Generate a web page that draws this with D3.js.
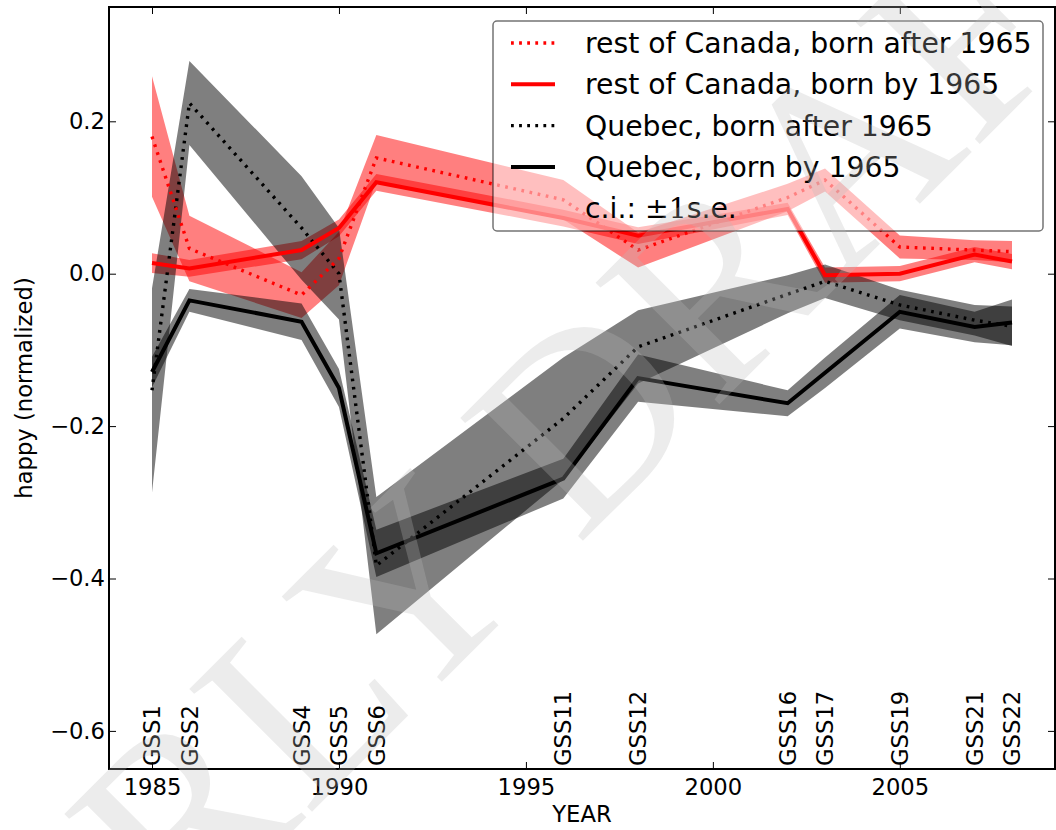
<!DOCTYPE html>
<html>
<head>
<meta charset="utf-8">
<script src="https://cdn.jsdelivr.net/npm/d3@7"></script>
<style>
  body { margin: 0; background: #fff; }
  svg { font-family: "DejaVu Sans", sans-serif; }
</style>
</head>
<body>
<div id="chart"></div>
<script>
// survey years and GSS cycle names
const years = [1985, 1986, 1989, 1990, 1991, 1996, 1998, 2002, 2003, 2005, 2007, 2008];
const surveys = ['GSS1', 'GSS2', 'GSS4', 'GSS5', 'GSS6', 'GSS11', 'GSS12', 'GSS16', 'GSS17', 'GSS19', 'GSS21', 'GSS22'];

// mean happiness (normalized) and standard errors
const rocAfter   = [0.180, 0.033, -0.028, 0.020, 0.152, 0.097, 0.031, 0.100, 0.123, 0.035, 0.031, 0.029];
const rocAfterSe = [0.079, 0.043, 0.030, 0.035, 0.030, 0.026, 0.023, 0.018, 0.015, 0.015, 0.013, 0.014];
const rocBy      = [0.014, 0.007, 0.031, 0.060, 0.120, 0.073, 0.050, 0.085, -0.002, 0.000, 0.025, 0.016];
const rocBySe    = [0.013, 0.011, 0.012, 0.011, 0.011, 0.011, 0.011, 0.008, 0.010, 0.010, 0.010, 0.010];
const qcAfter    = [-0.153, 0.224, 0.060, 0.000, -0.383, -0.190, -0.096, -0.027, -0.010, -0.041, -0.061, -0.069];
const qcAfterSe  = [0.134, 0.055, 0.068, 0.060, 0.090, 0.080, 0.048, 0.025, 0.022, 0.020, 0.020, 0.026];
const qcBy       = [-0.129, -0.035, -0.063, -0.150, -0.367, -0.269, -0.137, -0.170, -0.130, -0.050, -0.070, -0.064];
const qcBySe     = [0.020, 0.015, 0.024, 0.025, 0.031, 0.026, 0.031, 0.017, 0.020, 0.022, 0.020, 0.030];

const xTicks = [1985, 1990, 1995, 2000, 2005];
const yTicks = [-0.6, -0.4, -0.2, 0.0, 0.2];

const W = 1056, H = 830;
const margin = { top: 7, right: 1, bottom: 61, left: 109 };
const width = W - margin.left - margin.right;
const height = H - margin.top - margin.bottom;

const svg = d3.select('#chart')
  .append('svg')
  .attr('width', W)
  .attr('height', H);

const g = svg.append('g')
  .attr('transform', `translate(${margin.left},${margin.top})`);

const x = d3.scaleLinear().domain([1983.85, 2009.15]).range([0, width]);
const y = d3.scaleLinear().domain([-0.65, 0.35]).range([height, 0]);

const series = [
  { label: 'rest of Canada, born after 1965', v: rocAfter, se: rocAfterSe, color: '#ff0000', dotted: true },
  { label: 'rest of Canada, born by 1965', v: rocBy, se: rocBySe, color: '#ff0000', dotted: false },
  { label: 'Quebec, born after 1965', v: qcAfter, se: qcAfterSe, color: '#000000', dotted: true },
  { label: 'Quebec, born by 1965', v: qcBy, se: qcBySe, color: '#000000', dotted: false }
];

const rows = s => years.map((yr, i) => ({ yr, v: s.v[i], se: s.se[i] }));

const area = d3.area()
  .x(d => x(d.yr))
  .y0(d => y(d.v - d.se))
  .y1(d => y(d.v + d.se));

const line = d3.line()
  .x(d => x(d.yr))
  .y(d => y(d.v));

// bands: red first, grey on top
g.selectAll('path.band')
  .data(series)
  .enter()
  .append('path')
  .attr('class', 'band')
  .attr('d', s => area(rows(s)))
  .attr('fill', s => s.color)
  .attr('fill-opacity', 0.5);

// lines, Quebec first then rest of Canada
g.selectAll('path.line')
  .data(series.slice().reverse())
  .enter()
  .append('path')
  .attr('class', 'line')
  .attr('d', s => line(rows(s)))
  .attr('fill', 'none')
  .attr('stroke', s => s.color)
  .attr('stroke-width', s => (s.dotted ? 3.4 : 4))
  .attr('stroke-dasharray', s => (s.dotted ? '2.7,5.6' : null))
  .attr('stroke-linejoin', 'miter');

// GSS cycle labels along the bottom
g.selectAll('text.gss')
  .data(years)
  .enter()
  .append('text')
  .attr('class', 'gss')
  .attr('transform', d => `translate(${x(d)},${height - 3}) rotate(-90)`)
  .attr('dy', '0.36em')
  .attr('font-size', 22.7)
  .attr('fill', '#000')
  .text((d, i) => surveys[i]);

// axes, ticks pointing inward
const fmt = d3.format('.1f');
const axes = [
  g.append('g').attr('transform', `translate(0,${height})`)
    .call(d3.axisBottom(x).tickValues(xTicks).tickFormat(d3.format('d')).tickSizeInner(-7).tickSizeOuter(0).tickPadding(10)),
  g.append('g')
    .call(d3.axisTop(x).tickValues(xTicks).tickFormat('').tickSizeInner(-7).tickSizeOuter(0)),
  g.append('g')
    .call(d3.axisLeft(y).tickValues(yTicks).tickFormat(fmt).tickSizeInner(-7).tickSizeOuter(0).tickPadding(4)),
  g.append('g').attr('transform', `translate(${width},0)`)
    .call(d3.axisRight(y).tickValues(yTicks).tickFormat('').tickSizeInner(-7).tickSizeOuter(0))
];
axes.forEach(a => {
  a.attr('font-family', null);
  a.select('.domain').remove();
  a.selectAll('.tick line').attr('stroke', '#000').attr('stroke-width', 1);
  a.selectAll('.tick text')
    .attr('font-size', 22.7)
    .attr('fill', '#000');
});

g.append('rect')
  .attr('width', width)
  .attr('height', height)
  .attr('fill', 'none')
  .attr('stroke', '#000')
  .attr('stroke-width', 2);

// axis titles
svg.append('text')
  .attr('x', margin.left + width / 2)
  .attr('y', 821.5)
  .attr('text-anchor', 'middle')
  .attr('font-size', 22.7)
  .text('YEAR');

svg.append('text')
  .attr('transform', `translate(31.5,${margin.top + height / 2}) rotate(-90)`)
  .attr('text-anchor', 'middle')
  .attr('font-size', 22.7)
  .text('happy (normalized)');

// legend
const legend = svg.append('g').attr('transform', 'translate(493,21)');
legend.append('rect')
  .attr('width', 550)
  .attr('height', 210)
  .attr('rx', 4)
  .attr('fill', '#fff')
  .attr('fill-opacity', 0.5)
  .attr('stroke', '#000')
  .attr('stroke-opacity', 0.55)
  .attr('stroke-width', 1.5);

const item = legend.selectAll('g.item')
  .data(series)
  .enter()
  .append('g')
  .attr('class', 'item')
  .attr('transform', (d, i) => `translate(0,${32 + i * 41.3})`);

item.append('line')
  .attr('x1', 18).attr('x2', 62)
  .attr('y1', -10).attr('y2', -10)
  .attr('stroke', d => d.color)
  .attr('stroke-width', d => (d.dotted ? 3.4 : 4))
  .attr('stroke-dasharray', d => (d.dotted ? '2.8,5.3' : null));

item.append('text')
  .attr('x', 92)
  .attr('font-size', 28.3)
  .text(d => d.label);

const ci = legend.append('text')
  .attr('x', 92)
  .attr('y', 32 + 4 * 41.3)
  .attr('font-size', 28.3);
ci.append('tspan').text('c.i.: ');
ci.append('tspan').style('font-family', '"DejaVu Serif", serif').text('±1');
ci.append('tspan').text('s.e.');

// watermark
svg.append('text')
  .attr('transform', 'translate(500,500) rotate(-45)')
  .attr('text-anchor', 'middle')
  .attr('dy', '0.33em')
  .style('font-family', '"Liberation Serif", "Times New Roman", serif')
  .attr('font-size', 265)
  .attr('fill', '#bababa')
  .attr('fill-opacity', 0.28)
  .text('EARLY DRAFT');
</script>
</body>
</html>
